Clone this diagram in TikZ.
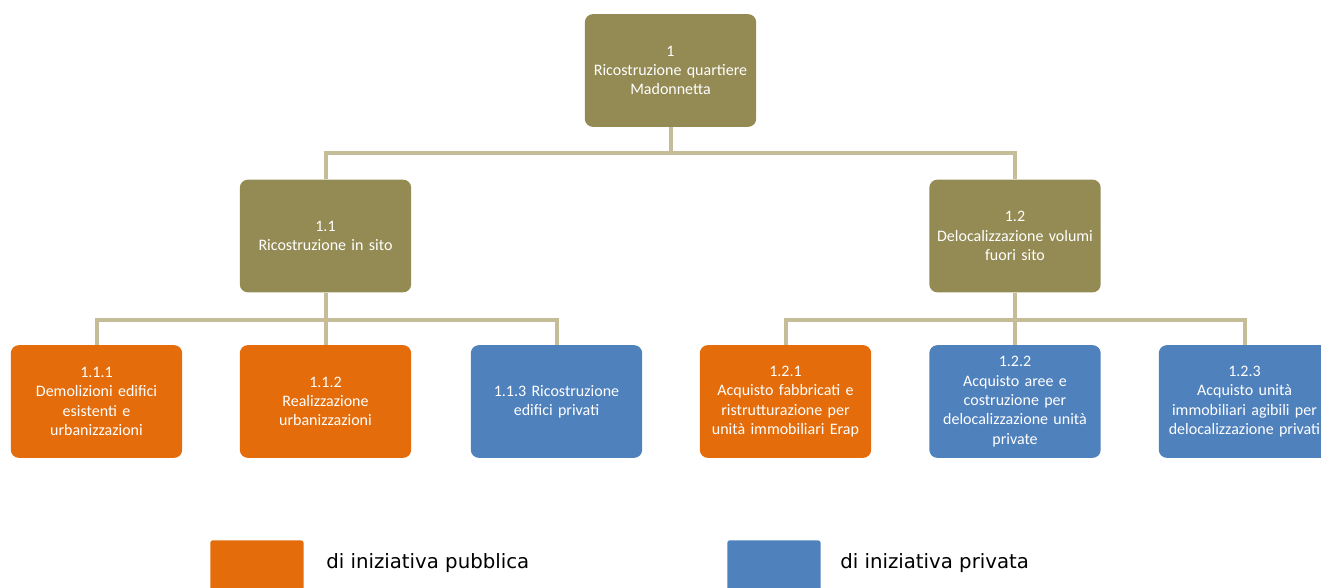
\documentclass[tikz,border=0pt]{standalone}
\usepackage{fontspec}
\setmainfont{Carlito}
\newfontfamily\legendfont{DejaVu Sans}
\definecolor{olivebox}{HTML}{948A54}
\definecolor{orangebox}{HTML}{E46C0A}
\definecolor{bluebox}{HTML}{4F81BD}
\definecolor{tanline}{HTML}{C4BD97}
\tikzset{
  wbs/.style={rectangle, rounded corners=6pt, minimum width=128.5pt, minimum height=84.5pt,
    text width=126pt, align=center, text=white, font=\fontsize{12}{14.5}\selectfont, inner sep=0pt},
  lvl/.style={wbs, fill=olivebox},
  pub/.style={wbs, fill=orangebox},
  priv/.style={wbs, fill=bluebox},
  conn/.style={draw=tanline, line width=3pt},
  legbox/.style={rectangle, rounded corners=2pt, minimum width=70pt, minimum height=45pt, inner sep=0pt},
  legtext/.style={anchor=west, font=\legendfont\fontsize{14.8}{17}\selectfont, inner sep=0pt}
}
\begin{document}
\begin{tikzpicture}[x=0.75pt, y=-0.75pt]
\useasboundingbox (0,0) rectangle (1321,587);
\clip (0,0) rectangle (1321,587);
% junction points
\coordinate (b0) at (670.5,153);
\coordinate (b1) at (325.5,320);
\coordinate (b2) at (1015,320);
% nodes
\node[lvl] (n1) at (670.5,70.5) {1\\Ricostruzione quartiere\\Madonnetta};
\node[lvl] (n11) at (325.5,236) {1.1\\Ricostruzione in sito};
\node[lvl] (n12) at (1015,236) {1.2\\Delocalizzazione volumi\\fuori sito};
\node[pub] (n111) at (96.5,401.5) {1.1.1\\Demolizioni edifici\\esistenti e\\urbanizzazioni};
\node[pub] (n112) at (325.5,401.5) {1.1.2\\Realizzazione\\urbanizzazioni};
\node[priv] (n113) at (556.5,401.5) {1.1.3 Ricostruzione\\edifici privati};
\node[pub] (n121) at (785.5,401.5) {1.2.1\\Acquisto fabbricati e\\ristrutturazione per\\unità immobiliari Erap};
\node[priv] (n122) at (1015,401.5) {1.2.2\\Acquisto aree e\\costruzione per\\delocalizzazione unità\\private};
\node[priv] (n123) at (1244.5,401.5) {1.2.3\\Acquisto unità\\immobiliari agibili per\\delocalizzazione privati};
% connectors
\draw[conn] (n1.south) -- (b0);
\draw[conn] (b0) -| (n11.north);
\draw[conn] (b0) -| (n12.north);
\draw[conn] (n11.south) -- (b1);
\draw[conn] (b1) -| (n111.north);
\draw[conn] (b1) -- (n112.north);
\draw[conn] (b1) -| (n113.north);
\draw[conn] (n12.south) -- (b2);
\draw[conn] (b2) -| (n121.north);
\draw[conn] (b2) -- (n122.north);
\draw[conn] (b2) -| (n123.north);
% legend
\node[legbox, fill=orangebox, anchor=north west] (lpub) at (210,540) {};
\node[legtext] (tpub) at (326,563) {di iniziativa pubblica};
\node[legbox, fill=bluebox, anchor=north west] (lpriv) at (727,540) {};
\node[legtext] (tpriv) at (840,563) {di iniziativa privata};
\end{tikzpicture}
\end{document}
